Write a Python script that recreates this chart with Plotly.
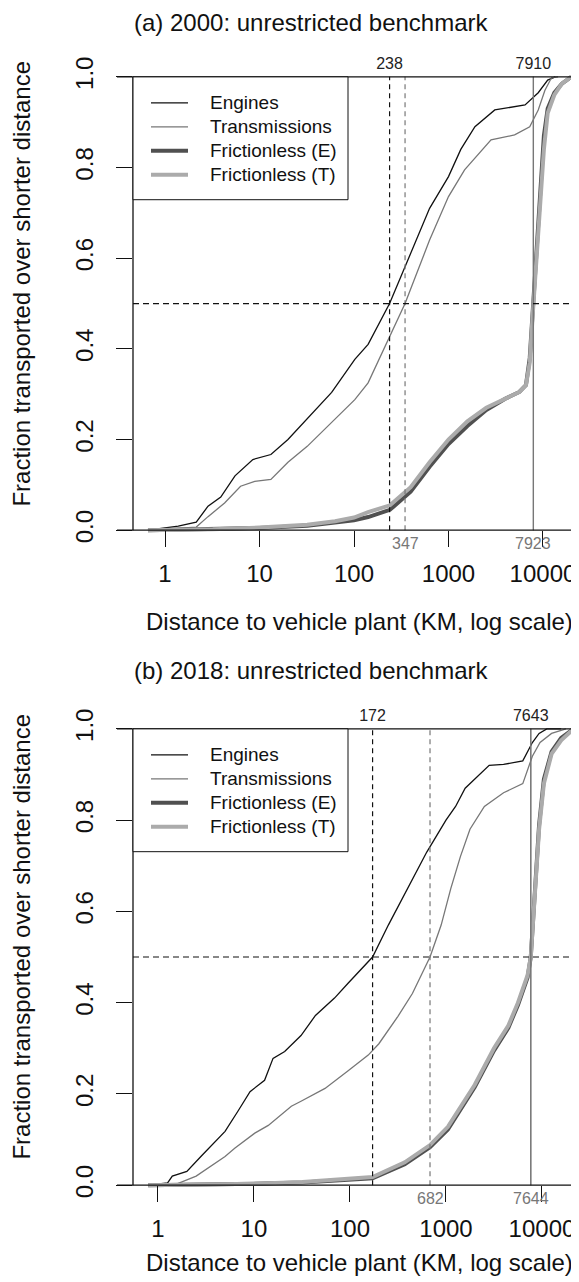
import math
import plotly.graph_objects as go

W, H = 579, 1282
FONT = "Liberation Sans, Arial, sans-serif"

# ---- (a) 2000: distances in km, cumulative share ----
eng_km_2000 = [0.66, 1.38, 2.14, 2.85, 3.89, 5.5, 8.5, 13.2, 20, 32, 58, 102, 141, 238,
               398, 631, 1000, 1350, 1905, 3090, 6460, 8910, 11220, 13490]
eng_frac_2000 = [0, 0.009, 0.018, 0.053, 0.073, 0.12, 0.156, 0.167, 0.20, 0.245, 0.304, 0.377,
                 0.41, 0.5, 0.61, 0.71, 0.78, 0.84, 0.89, 0.927, 0.938, 0.965, 0.993, 1.0]
trn_km_2000 = [0.66, 2.14, 2.85, 4.27, 6.3, 8.9, 13.2, 20, 32, 58, 102, 141, 347, 631, 1000,
               1480, 2820, 5010, 7240, 8910, 10470, 12300, 14450]
trn_frac_2000 = [0, 0.007, 0.03, 0.06, 0.097, 0.108, 0.112, 0.15, 0.185, 0.238, 0.288, 0.325,
                 0.5, 0.64, 0.736, 0.795, 0.861, 0.872, 0.89, 0.927, 0.97, 0.998, 1.0]
fr_km_2000 = [0.66, 3.2, 10, 32, 63, 100, 141, 240, 398, 631, 1000, 1585, 2512, 3981, 5623,
              6607, 7244, 7762, 8318, 8913, 9550, 10230, 11220, 13180, 15850, 19950]
fre_frac_2000 = [0, 0.002, 0.005, 0.01, 0.016, 0.022, 0.029, 0.045, 0.085, 0.14, 0.19, 0.23,
                 0.265, 0.29, 0.305, 0.32, 0.38, 0.48, 0.58, 0.68, 0.78, 0.87, 0.93, 0.965,
                 0.985, 1.0]
frt_frac_2000 = [0, 0.002, 0.006, 0.012, 0.02, 0.028, 0.04, 0.055, 0.095, 0.15, 0.2, 0.24,
                 0.27, 0.29, 0.305, 0.32, 0.37, 0.47, 0.56, 0.66, 0.75, 0.84, 0.92, 0.96,
                 0.985, 1.0]
med_2000 = {"eng": 238, "trn": 347, "fre": 7910, "frt": 7923}

# ---- (b) 2018 ----
eng_km_2018 = [0.79, 1.26, 1.41, 2.0, 2.8, 4.4, 5.0, 6.8, 9.1, 12.9, 15.8, 20.9, 30.9, 43.7,
               69, 95, 172, 251, 398, 631, 1000, 1259, 1585, 2239, 2818, 3981, 6310, 7943,
               9333, 11220, 15850]
eng_frac_2018 = [0, 0.005, 0.02, 0.03, 0.063, 0.107, 0.118, 0.162, 0.205, 0.23, 0.278, 0.293,
                 0.328, 0.372, 0.41, 0.442, 0.5, 0.57, 0.65, 0.73, 0.80, 0.83, 0.87, 0.9,
                 0.92, 0.922, 0.93, 0.97, 0.99, 1.0, 1.0]
trn_km_2018 = [0.79, 1.58, 2.5, 3.5, 5.0, 6.3, 10.2, 14.1, 24.5, 30.9, 55, 95, 155, 200, 316,
               447, 682, 891, 1122, 1413, 1778, 2512, 3981, 6310, 7943, 9550, 12590, 17780]
trn_frac_2018 = [0, 0.003, 0.02, 0.04, 0.063, 0.081, 0.114, 0.131, 0.173, 0.184, 0.212, 0.25,
                 0.285, 0.31, 0.37, 0.42, 0.5, 0.57, 0.65, 0.72, 0.78, 0.83, 0.86, 0.88,
                 0.94, 0.97, 0.99, 1.0]
fr_km_2018 = [0.79, 3.2, 10, 32, 100, 172, 372, 682, 1047, 1995, 3162, 4467, 5623, 7079,
              7643, 8511, 9333, 10470, 12590, 15850, 21380]
fre_frac_2018 = [0, 0.001, 0.003, 0.006, 0.011, 0.015, 0.046, 0.083, 0.122, 0.215, 0.295,
                 0.345, 0.395, 0.455, 0.5, 0.64, 0.79, 0.89, 0.95, 0.98, 1.0]
frt_frac_2018 = [0, 0.001, 0.003, 0.007, 0.013, 0.018, 0.05, 0.088, 0.128, 0.22, 0.3, 0.35,
                 0.4, 0.46, 0.5, 0.64, 0.78, 0.88, 0.945, 0.975, 1.0]
med_2018 = {"eng": 172, "trn": 682, "fre": 7643, "frt": 7644}

x_ticks = [1, 10, 100, 1000, 10000]
y_ticks = [0, 0.2, 0.4, 0.6, 0.8, 1.0]
series_names = ["Engines", "Transmissions", "Frictionless (E)", "Frictionless (T)"]

BLACK, GREY, DARK, LIGHT = "#111111", "#777777", "#505050", "#ababab"
STYLES = [(BLACK, 1.3), (GREY, 1.3), (DARK, 4), (LIGHT, 4)]

fig = go.Figure()
annotations = []


def px_x(p):
    return p / W


def px_y(p):
    return 1 - p / H


def add_panel(n, dy, eng_km, eng_frac, trn_km, trn_frac, fr_km, fre_frac, frt_frac, med):
    xa, ya = ("x", "y") if n == 1 else ("x2", "y2")
    series = [(eng_km, eng_frac), (trn_km, trn_frac), (fr_km, fre_frac), (fr_km, frt_frac)]
    for name, (xs, ys), (col, w) in zip(series_names, series, STYLES):
        fig.add_trace(go.Scatter(x=xs, y=ys, name=name, mode="lines", xaxis=xa, yaxis=ya,
                                 showlegend=False, line=dict(color=col, width=w)))
    # median markers
    for key, col, dash in [("eng", BLACK, "5px,4px"), ("trn", GREY, "5px,4px"),
                           ("fre", GREY, "solid"), ("frt", GREY, "solid")]:
        fig.add_trace(go.Scatter(x=[med[key], med[key]], y=[0, 1], mode="lines",
                                 xaxis=xa, yaxis=ya, showlegend=False, hoverinfo="skip",
                                 line=dict(color=col, width=1.2, dash=dash)))
    fig.add_trace(go.Scatter(x=[med["eng"], med["fre"]], y=[1.027, 1.027], mode="text",
                             text=[str(med["eng"]), str(med["fre"])], xaxis=xa, yaxis=ya,
                             showlegend=False, cliponaxis=False, hoverinfo="skip",
                             textfont=dict(size=16, color="#222222", family=FONT)))
    # labels under the axis (annotations on a log axis take log10 positions)
    for key in ["trn", "frt"]:
        annotations.append(dict(text=str(med[key]), xref=xa, yref=ya,
                                x=math.log10(med[key]), y=-0.03, showarrow=False,
                                xanchor="center", yanchor="middle",
                                font=dict(size=16, color=GREY, family=FONT)))
    # frame lines as in the original (base R style)
    for yv in [0, 1]:
        fig.add_shape(type="line", xref="paper", yref=ya, x0=px_x(109), x1=1, y0=yv, y1=yv,
                      line=dict(color=BLACK, width=1.3))
    fig.add_shape(type="line", xref="paper", yref=ya, x0=px_x(125), x1=px_x(125), y0=0, y1=1,
                  line=dict(color=BLACK, width=1.3))
    fig.add_shape(type="line", xref="paper", yref=ya, x0=px_x(125), x1=1, y0=0.5, y1=0.5,
                  line=dict(color=BLACK, width=1.2, dash="6px,4px"))
    # legend box
    fig.add_shape(type="rect", xref="paper", yref="paper", x0=px_x(125), x1=px_x(340),
                  y0=px_y(190 + dy), y1=px_y(67 + dy), line=dict(color=BLACK, width=1),
                  fillcolor="white", layer="above")
    for i, (name, (col, w)) in enumerate(zip(series_names, STYLES)):
        yy = px_y(93 + 24 * i + dy)
        fig.add_shape(type="line", xref="paper", yref="paper", x0=px_x(143), x1=px_x(180),
                      y0=yy, y1=yy, line=dict(color=col, width=w), layer="above")
        annotations.append(dict(text=name, x=px_x(200), y=yy, xref="paper", yref="paper",
                                showarrow=False, xanchor="left", yanchor="middle",
                                font=dict(size=19, color=BLACK, family=FONT)))


add_panel(1, 0, eng_km_2000, eng_frac_2000, trn_km_2000, trn_frac_2000, fr_km_2000,
          fre_frac_2000, frt_frac_2000, med_2000)
add_panel(2, 653, eng_km_2018, eng_frac_2018, trn_km_2018, trn_frac_2018, fr_km_2018,
          fre_frac_2018, frt_frac_2018, med_2018)

xax = dict(type="log", tickvals=x_ticks, ticktext=[str(v) for v in x_ticks], ticks="outside",
           ticklen=16, tickwidth=1.3, tickcolor=BLACK, showgrid=False, zeroline=False,
           showline=False, anchor="free", ticklabelstandoff=6,
           tickfont=dict(size=24, color=BLACK, family=FONT))
yax = dict(range=[-0.04, 1.04], tickvals=y_ticks, ticktext=[f"{v:.1f}" for v in y_ticks],
           ticks="outside", ticklen=16, tickwidth=1.3, tickcolor=BLACK, showgrid=False,
           zeroline=False, showline=False, tickangle=-90, ticklabelstandoff=13,
           tickfont=dict(size=24, color=BLACK, family=FONT))

for text, x, y, angle in [
    ("(a) 2000: unrestricted benchmark", 303, 13, 0),
    ("(b) 2018: unrestricted benchmark", 303, 662, 0),
    ("Distance to vehicle plant (KM, log scale)", 351, 612, 0),
    ("Distance to vehicle plant (KM, log scale)", 351, 1254, 0),
    ("Fraction transported over shorter distance", 14, 274, -90),
    ("Fraction transported over shorter distance", 14, 928, -90),
]:
    annotations.append(dict(text=text, x=px_x(x), y=px_y(y), xref="paper", yref="paper",
                            showarrow=False, xanchor="center", yanchor="middle",
                            textangle=angle, font=dict(size=24, color=BLACK, family=FONT)))

fig.update_layout(
    width=W, height=H, margin=dict(l=0, r=0, t=0, b=0),
    paper_bgcolor="white", plot_bgcolor="white",
    font=dict(family=FONT, color=BLACK),
    showlegend=False,
    xaxis=dict(xax, domain=[px_x(125), 1], range=[-0.339, 4.466], position=px_y(521)),
    yaxis=dict(yax, domain=[px_y(539.2), px_y(48.8)], anchor="x"),
    xaxis2=dict(xax, domain=[px_x(125), 1], range=[-0.260, 4.469], position=px_y(1177)),
    yaxis2=dict(yax, domain=[px_y(1195.3), px_y(701.7)], anchor="x2"),
    annotations=annotations,
)

fig.write_html("out.html")
